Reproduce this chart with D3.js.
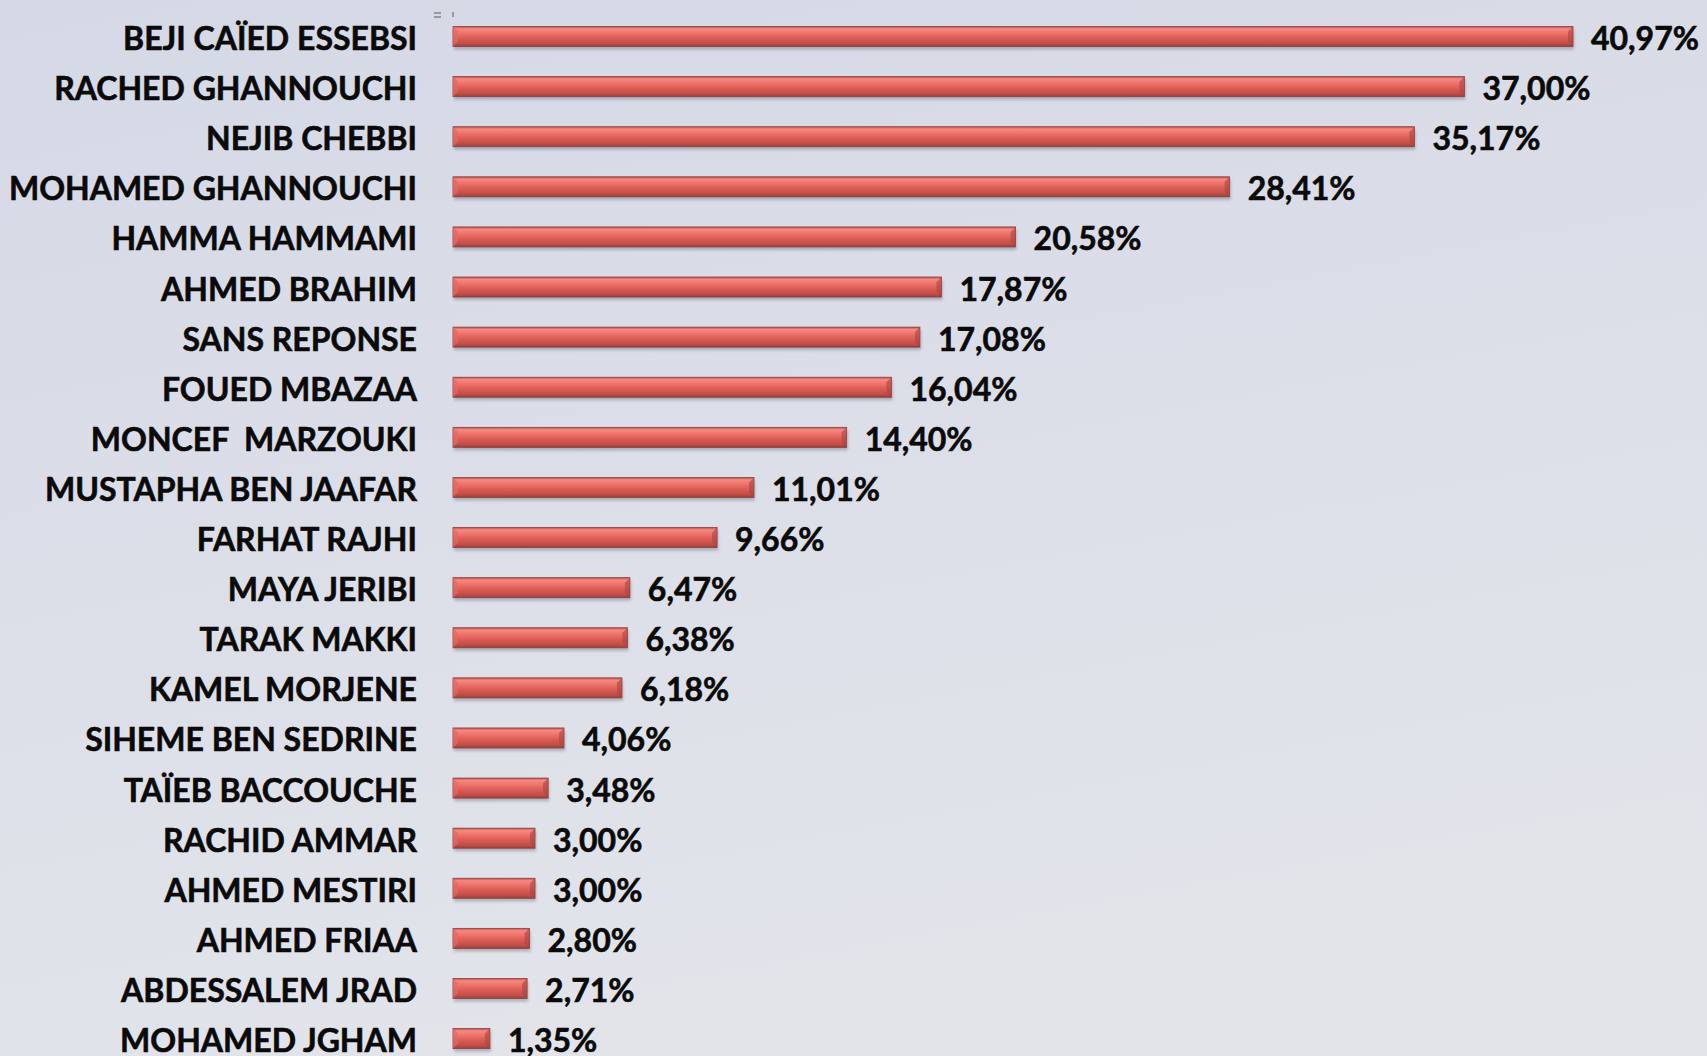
<!DOCTYPE html>
<html>
<head>
<meta charset="utf-8">
<script src="https://cdn.jsdelivr.net/npm/d3@7"></script>
<style>
  html, body { margin: 0; padding: 0; overflow: hidden; }
  svg { display: block; }
</style>
</head>
<body>
<svg id="chart" width="1707" height="1056"></svg>
<script>
// candidats (ordre du graphique, du haut vers le bas)
const candidats = [
  "BEJI CAÏED ESSEBSI", "RACHED GHANNOUCHI", "NEJIB CHEBBI", "MOHAMED GHANNOUCHI",
  "HAMMA HAMMAMI", "AHMED BRAHIM", "SANS REPONSE", "FOUED MBAZAA",
  "MONCEF  MARZOUKI", "MUSTAPHA BEN JAAFAR", "FARHAT RAJHI", "MAYA JERIBI",
  "TARAK MAKKI", "KAMEL MORJENE", "SIHEME BEN SEDRINE", "TAÏEB BACCOUCHE",
  "RACHID AMMAR", "AHMED MESTIRI", "AHMED FRIAA", "ABDESSALEM JRAD", "MOHAMED JGHAM"
];
const scores = [
  40.97, 37.00, 35.17, 28.41, 20.58, 17.87, 17.08, 16.04, 14.40, 11.01, 9.66,
  6.47, 6.38, 6.18, 4.06, 3.48, 3.00, 3.00, 2.80, 2.71, 1.35
];
const etiquettes = scores.map(v => v.toFixed(2).replace(".", ",") + "%");

const svg = d3.select("#chart");
const W = 1707, H = 1056;
const defs = svg.append("defs");

// fond
const bg = defs.append("linearGradient").attr("id", "bg")
  .attr("x1", 0).attr("y1", 0).attr("x2", 0.3).attr("y2", 1);
bg.append("stop").attr("offset", "0%").attr("stop-color", "#d5d9e6");
bg.append("stop").attr("offset", "100%").attr("stop-color", "#e2e4ea");
svg.append("rect").attr("width", W).attr("height", H).attr("fill", "url(#bg)");

// dégradé des barres
const bar = defs.append("linearGradient").attr("id", "barGrad")
  .attr("x1", 0).attr("y1", 0).attr("x2", 0).attr("y2", 1);
[["0%", "#b9524c"], ["12%", "#f48a82"], ["30%", "#f0766e"], ["55%", "#dc5f58"],
 ["85%", "#c24d47"], ["100%", "#94403c"]]
  .forEach(([o, c]) => bar.append("stop").attr("offset", o).attr("stop-color", c));

const shadow = defs.append("filter").attr("id", "shadow")
  .attr("x", "-5%").attr("y", "-50%").attr("width", "110%").attr("height", "200%");
shadow.append("feGaussianBlur").attr("stdDeviation", 1.6);

const x = d3.scaleLinear().domain([0, 40.97]).range([453, 1573]);
const y = d3.scaleBand().domain(candidats).range([11.45, 1063.65])
  .paddingInner(0.6).paddingOuter(0.3);
const bh = y.bandwidth();

const rows = candidats.map((c, i) => ({ c, v: scores[i], t: etiquettes[i] }));

// petites marques en haut à gauche (artefact du graphique d'origine)
svg.append("rect").attr("x", 434).attr("y", 12).attr("width", 7).attr("height", 2).attr("fill", "#9a9a9a");
svg.append("rect").attr("x", 434).attr("y", 16).attr("width", 7).attr("height", 2).attr("fill", "#9a9a9a");
svg.append("rect").attr("x", 452).attr("y", 12).attr("width", 2).attr("height", 5).attr("fill", "#9a9a9a");

const g = svg.append("g");

// ombres
g.selectAll("rect.sh").data(rows).enter().append("rect")
  .attr("class", "sh")
  .attr("x", x(0) + 1)
  .attr("y", d => y(d.c) + 3)
  .attr("width", d => x(d.v) - x(0))
  .attr("height", bh)
  .attr("fill", "#6c6f80")
  .attr("opacity", 0.45)
  .attr("filter", "url(#shadow)");

// barres
g.selectAll("rect.bar").data(rows).enter().append("rect")
  .attr("class", "bar")
  .attr("x", x(0))
  .attr("y", d => y(d.c))
  .attr("width", d => x(d.v) - x(0))
  .attr("height", bh)
  .attr("fill", "url(#barGrad)")
  .attr("stroke", "#8f3f3b")
  .attr("stroke-width", 0.8);

// biseaux aux extrémités
g.selectAll("path.bevL").data(rows).enter().append("path")
  .attr("d", d => {
    const x0 = x(0), y0 = y(d.c);
    return `M${x0},${y0}L${x0 + 5},${y0 + 5}L${x0 + 5},${y0 + bh - 5}L${x0},${y0 + bh}Z`;
  })
  .attr("fill", "#e36a62").attr("opacity", 0.7);
g.selectAll("path.bevR").data(rows).enter().append("path")
  .attr("d", d => {
    const x1 = x(d.v), y0 = y(d.c);
    return `M${x1},${y0}L${x1 - 5},${y0 + 5}L${x1 - 5},${y0 + bh - 5}L${x1},${y0 + bh}Z`;
  })
  .attr("fill", "#a9443f").attr("opacity", 0.6);

// noms
g.selectAll("text.nom").data(rows).enter().append("text")
  .attr("class", "nom")
  .attr("x", 417)
  .attr("y", d => y(d.c) + bh / 2 + 2)
  .attr("dy", "0.36em")
  .attr("text-anchor", "end")
  .attr("font-family", "Lato, 'Open Sans', sans-serif")
  .attr("font-weight", 700)
  .attr("font-size", 32)
  .attr("fill", "#0a0a0a")
  .attr("stroke", "#0a0a0a")
  .attr("stroke-width", 0.6)
  .style("white-space", "pre")
  .text(d => d.c);

// valeurs
g.selectAll("text.val").data(rows).enter().append("text")
  .attr("class", "val")
  .attr("x", d => x(d.v) + 18)
  .attr("y", d => y(d.c) + bh / 2 + 2)
  .attr("dy", "0.36em")
  .attr("font-family", "Lato, 'Open Sans', sans-serif")
  .attr("font-weight", 700)
  .attr("font-size", 32)
  .attr("fill", "#0a0a0a")
  .attr("stroke", "#0a0a0a")
  .attr("stroke-width", 0.6)
  .text(d => d.t);
</script>
</body>
</html>
